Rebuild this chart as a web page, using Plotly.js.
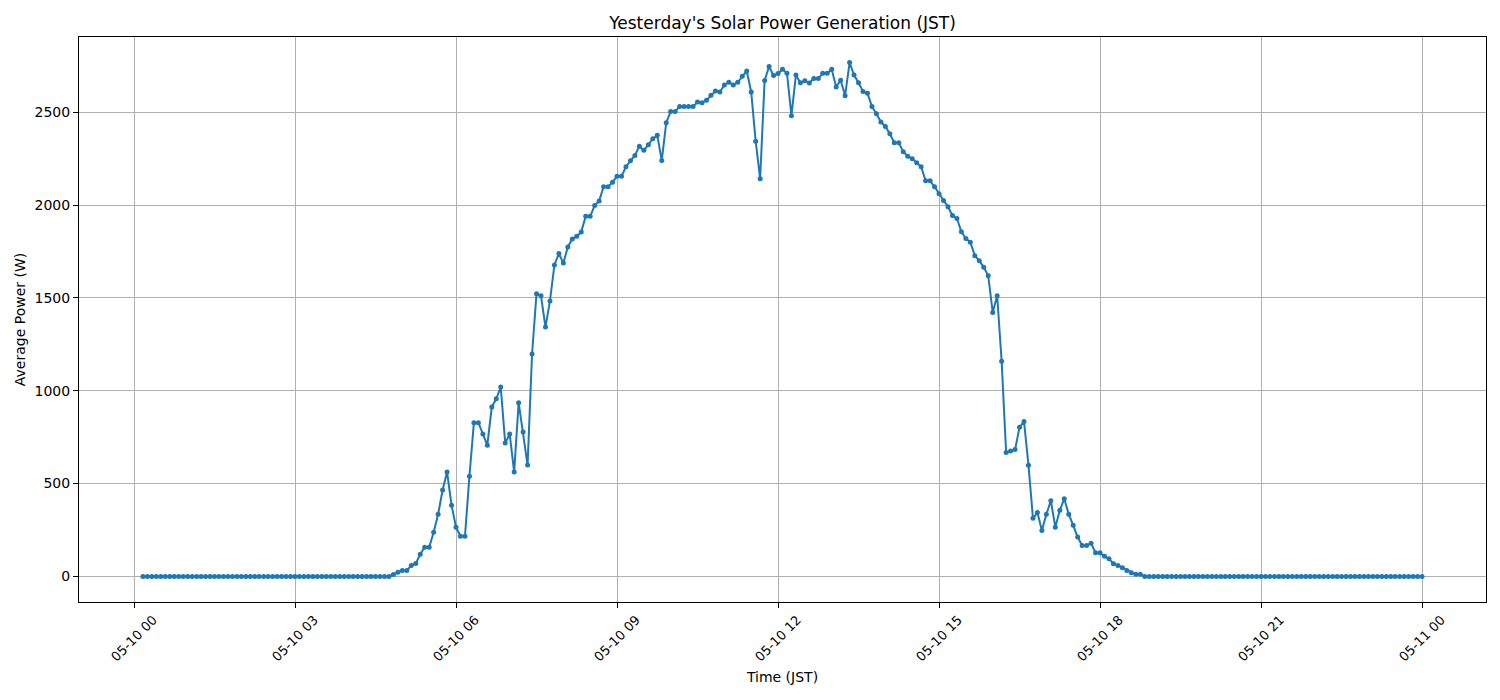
<!DOCTYPE html>
<html>
<head>
<meta charset="utf-8">
<script src="https://cdn.plot.ly/plotly-3.0.1.min.js"></script>
<style>
  body { margin: 0; background: #fff; }
  #chart { width: 1500px; height: 700px; }
</style>
</head>
<body>
<div id="chart"></div>
<script>
// 5-minute readings, first one at 05-10 00:10, last at 05-11 00:00
const firstReading = { day: 10, minute: 10 };
const stepMinutes = 5;

// 00:10 - 04:45
const powerBeforeDawn = [
  0, 0, 0, 0, 0, 0, 0, 0, 0, 0,
  0, 0, 0, 0, 0, 0, 0, 0, 0, 0, 0, 0,
  0, 0, 0, 0, 0, 0, 0, 0, 0, 0, 0, 0,
  0, 0, 0, 0, 0, 0, 0, 0, 0, 0, 0, 0,
  0, 0, 0, 0, 0, 0, 0, 0, 0, 0,
];

// 04:50 - 18:35
const powerDaylight = [
  10, 22,
  32, 32, 59, 70, 119, 157, 157, 238, 335, 465, 562, 383,
  265, 216, 216, 540, 828, 828, 767, 707, 913, 957, 1020, 718,
  767, 562, 936, 778, 600, 1198, 1523, 1512, 1343, 1483, 1678, 1739,
  1688, 1775, 1818, 1832, 1856, 1940, 1940, 1998, 2023, 2099, 2099, 2124,
  2156, 2156, 2207, 2239, 2268, 2318, 2296, 2325, 2358, 2376, 2240, 2444,
  2504, 2504, 2531, 2531, 2531, 2531, 2556, 2552, 2565, 2592, 2615, 2610,
  2648, 2662, 2648, 2662, 2694, 2723, 2610, 2345, 2142, 2671, 2747, 2698,
  2709, 2732, 2711, 2482, 2701, 2660, 2670, 2658, 2682, 2682, 2711, 2711,
  2732, 2637, 2673, 2590, 2768, 2701, 2660, 2612, 2603, 2531, 2493, 2448,
  2424, 2385, 2336, 2336, 2288, 2264, 2250, 2228, 2207, 2131, 2131, 2099,
  2061, 2025, 1991, 1944, 1928, 1857, 1820, 1800, 1728, 1701, 1665, 1620,
  1422, 1512, 1159, 668, 675, 683, 803, 835, 599, 313, 344, 247,
  335, 407, 265, 356, 418, 335, 275, 212, 166, 166, 178, 128,
  128, 108, 95, 68, 59, 47, 32, 20, 11, 11,
];

// 18:40 - 24:00
const powerAfterDusk = [
  0, 0,
  0, 0, 0, 0, 0, 0, 0, 0, 0, 0, 0, 0,
  0, 0, 0, 0, 0, 0, 0, 0, 0, 0, 0, 0,
  0, 0, 0, 0, 0, 0, 0, 0, 0, 0, 0, 0,
  0, 0, 0, 0, 0, 0, 0, 0, 0, 0, 0, 0,
  0, 0, 0, 0, 0, 0, 0, 0, 0, 0, 0, 0,
  0,
];

const xTickTimes = [
  '2024-05-10 00:00', '2024-05-10 03:00', '2024-05-10 06:00',
  '2024-05-10 09:00', '2024-05-10 12:00', '2024-05-10 15:00',
  '2024-05-10 18:00', '2024-05-10 21:00', '2024-05-11 00:00',
];
const xTickLabels = [
  '05-10 00', '05-10 03', '05-10 06', '05-10 09', '05-10 12',
  '05-10 15', '05-10 18', '05-10 21', '05-11 00',
];
const yTickValues = [0, 500, 1000, 1500, 2000, 2500];

const pad = n => String(n).padStart(2, '0');

function readingTime(i) {
  const total = firstReading.minute + i * stepMinutes;
  const day = firstReading.day + Math.floor(total / 1440);
  const m = total % 1440;
  return '2024-05-' + pad(day) + ' ' + pad(Math.floor(m / 60)) + ':' + pad(m % 60);
}

const powerW = powerBeforeDawn.concat(powerDaylight, powerAfterDusk);
const times = powerW.map((_, i) => readingTime(i));

const trace = {
  x: times,
  y: powerW,
  type: 'scatter',
  mode: 'lines+markers',
  line: { color: '#1f77b4', width: 2 },
  marker: { color: '#1f77b4', size: 5 },
  hoverinfo: 'x+y',
};

// matplotlib style rotated labels, centred under each tick
const tickAnnotations = xTickTimes.map((t, i) => ({
  x: t,
  y: 0,
  xref: 'x',
  yref: 'paper',
  text: xTickLabels[i],
  textangle: -45,
  showarrow: false,
  xanchor: 'center',
  yanchor: 'top',
  yshift: -8,
  font: { family: 'DejaVu Sans', size: 13, color: '#000' },
}));

const layout = {
  width: 1500,
  height: 700,
  paper_bgcolor: '#fff',
  plot_bgcolor: '#fff',
  font: { family: 'DejaVu Sans', size: 14, color: '#000' },
  margin: { l: 79, r: 14, t: 37, b: 98 },
  showlegend: false,
  title: {
    text: "Yesterday's Solar Power Generation (JST)",
    font: { size: 17, color: '#000' },
    x: 0.5,
    xref: 'paper',
    y: 1 - 23 / 700,
    yref: 'container',
    yanchor: 'middle',
  },
  xaxis: {
    type: 'date',
    range: ['2024-05-09 22:58:30', '2024-05-11 01:11:30'],
    tickmode: 'array',
    tickvals: xTickTimes,
    showticklabels: false,
    ticks: 'outside',
    ticklen: 5,
    tickwidth: 1,
    tickcolor: '#000',
    showgrid: true,
    gridcolor: '#b0b0b0',
    gridwidth: 1,
    showline: true,
    linecolor: '#000',
    linewidth: 1,
    mirror: true,
    zeroline: false,
    automargin: false,
    title: { text: 'Time (JST)', font: { size: 14 }, standoff: 65 },
  },
  yaxis: {
    range: [-138, 2906],
    tickmode: 'array',
    tickvals: yTickValues,
    ticks: 'outside',
    ticklen: 5,
    tickwidth: 1,
    tickcolor: '#000',
    showgrid: true,
    gridcolor: '#b0b0b0',
    gridwidth: 1,
    showline: true,
    linecolor: '#000',
    linewidth: 1,
    mirror: true,
    zeroline: false,
    automargin: false,
    tickfont: { size: 14 },
    title: { text: 'Average Power (W)', font: { size: 14 }, standoff: 5 },
  },
  annotations: tickAnnotations,
};

Plotly.newPlot('chart', [trace], layout, { displayModeBar: false, responsive: false });
</script>
</body>
</html>
